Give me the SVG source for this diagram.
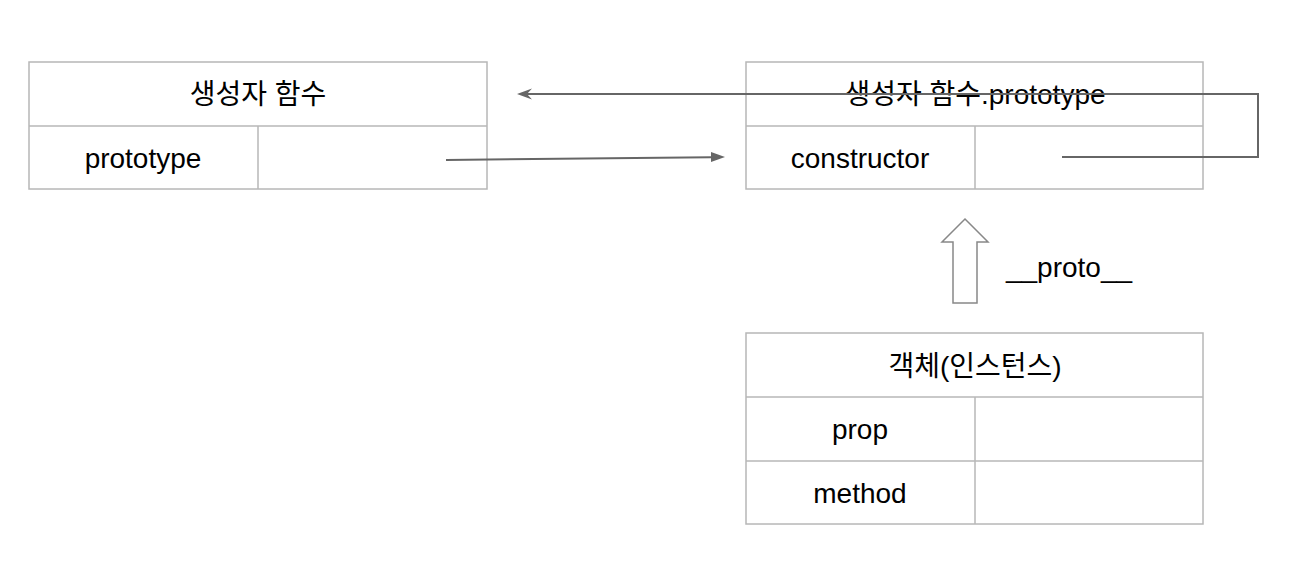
<svg xmlns="http://www.w3.org/2000/svg" width="1316" height="570" viewBox="0 0 1316 570">
<defs>
<style>
.box{fill:#fff;stroke:#b7b7b7;stroke-width:1.5}
.div{stroke:#b7b7b7;stroke-width:1.5;fill:none}
.t{font-family:"Liberation Sans","Noto Sans CJK KR",sans-serif;font-size:28px;fill:#000;text-anchor:middle}
.c{stroke:#666;stroke-width:2;fill:none}
</style>
<marker id="fill" viewBox="0 0 10 10" refX="9" refY="5" markerWidth="7" markerHeight="6" markerUnits="userSpaceOnUse" orient="auto" overflow="visible">
<path d="M0,0 L10,5 L0,10 z" fill="#666"/>
</marker>
<marker id="open" viewBox="0 0 10 10" refX="1" refY="5" markerWidth="7" markerHeight="6" orient="auto-start-reverse" overflow="visible">
<path d="M0,0 L10,5 L0,10 L2.5,5 z" fill="#666"/>
</marker>
</defs>
<rect width="1316" height="570" fill="#fff"/>
<g id="ctor">
<rect class="box" x="29" y="62" width="458" height="127"/>
<line class="div" x1="29" y1="126" x2="487" y2="126"/>
<line class="div" x1="258" y1="126" x2="258" y2="189"/>
<text class="t" x="258" y="104">생성자 함수</text>
<text class="t" x="143" y="168">prototype</text>
</g>
<g id="proto">
<rect class="box" x="746" y="62" width="457" height="127"/>
<line class="div" x1="746" y1="126" x2="1203" y2="126"/>
<line class="div" x1="975" y1="126" x2="975" y2="189"/>
<text class="t" x="975" y="104">생성자 함수.prototype</text>
<text class="t" x="860" y="168">constructor</text>
</g>
<g id="instance">
<rect class="box" x="746" y="333" width="457" height="191"/>
<line class="div" x1="746" y1="397" x2="1203" y2="397"/>
<line class="div" x1="746" y1="461" x2="1203" y2="461"/>
<line class="div" x1="975" y1="397" x2="975" y2="524"/>
<text class="t" x="975" y="376">객체(인스턴스)</text>
<text class="t" x="860" y="439">prop</text>
<text class="t" x="860" y="503">method</text>
</g>
<g id="connectors">
<path d="M446,160 L711,157.2" stroke="#666" stroke-width="2" fill="none"/>
<path d="M711,152 L725,157 L711,162 z" fill="#666"/>
<path class="c" d="M1062,157 L1258,157 L1258,94 L520,94"/>
<path d="M517,94 L532,88.5 L527,94 L532,99.5 z" fill="#666"/>
<path id="protoArrow" d="M965,219 L988,242 L977,242 L977,303 L953,303 L953,242 L942,242 z" fill="#fff" stroke="#888" stroke-width="1.5"/>
<text class="t" x="1069" y="277">__proto__</text>
</g>
</svg>
